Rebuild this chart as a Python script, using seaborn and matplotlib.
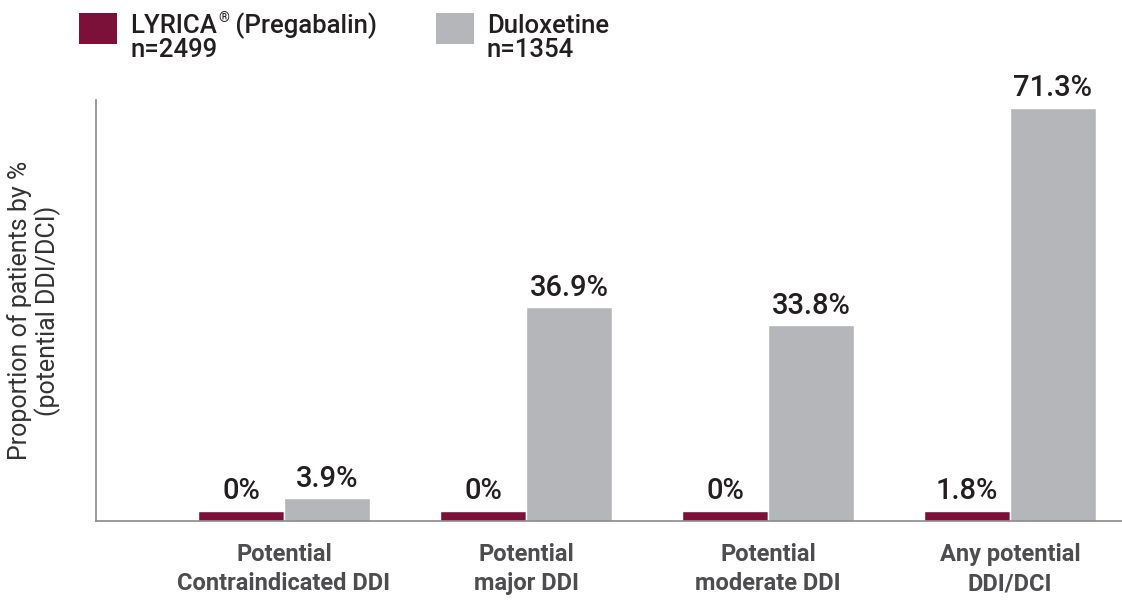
import pandas as pd
import matplotlib.pyplot as plt
import seaborn as sns
from matplotlib.patches import Rectangle

# chart values
categories = ["Potential\nContraindicated DDI", "Potential\nmajor DDI",
              "Potential\nmoderate DDI", "Any potential\nDDI/DCI"]
drugs = ["LYRICA", "Duloxetine"]
drug_n = ["n=2499", "n=1354"]
lyrica = [0, 0, 0, 1.8]
duloxetine = [3.9, 36.9, 33.8, 71.3]

colors = ["#7B1038", "#B5B6BA"]
stub = 1.8  # zero bars are still drawn as a thin stub

df = pd.DataFrame({
    "category": categories * 2,
    "drug": [drugs[0]] * 4 + [drugs[1]] * 4,
    "value": lyrica + duloxetine,
})
df["shown"] = df["value"].clip(lower=stub)

sns.set_style("white")
plt.rcParams["font.family"] = ["Roboto", "DejaVu Sans"]

fig = plt.figure(figsize=(11.22, 6.02), dpi=100)
ax = fig.add_axes([0.0856, 0.1346, 0.9144, 0.6994])

sns.barplot(data=df, x="category", y="shown", hue="drug", hue_order=drugs,
            palette=colors, width=0.71, saturation=1, legend=False, ax=ax)

for cont, drug in zip(ax.containers, drugs):
    vals = df[df["drug"] == drug]["value"].tolist()
    ax.bar_label(cont, labels=[f"{v:g}%" for v in vals], padding=4,
                 fontsize=21, fontweight="medium", color="#231f20")

ax.set_xlim(-0.777, 3.463)
ax.set_ylim(0, 72.7)
ax.set_yticks([])
ax.set_xlabel("")
ax.set_ylabel("Proportion of patients by %\n(potential DDI/DCI)",
              fontsize=18, color="#333333", labelpad=25, linespacing=1.1)
ax.tick_params(axis="x", length=0, pad=16, labelsize=17, labelcolor="#4d4d4f")
for t in ax.get_xticklabels():
    t.set_linespacing(1.35)
    t.set_fontweight("bold")

for s in ["top", "right"]:
    ax.spines[s].set_visible(False)
for s in ["left", "bottom"]:
    ax.spines[s].set_color("#8a8a8a")
    ax.spines[s].set_linewidth(1.2)

# legend drawn by hand: square + two text lines, small superscript ®
W, H = 1122, 602
fig.canvas.draw()
rend = fig.canvas.get_renderer()
legend_x = [79, 436]
for i, (drug, n) in enumerate(zip(drugs, drug_n)):
    x0 = legend_x[i]
    fig.add_artist(Rectangle((x0 / W, 1 - 44 / H), 38 / W, 31 / H,
                             transform=fig.transFigure, color=colors[i], lw=0))
    tx = (x0 + 51) / W
    t = fig.text(tx, 1 - 33 / H, drug, fontsize=18.5, color="#231f20",
                 fontweight="medium")
    if i == 0:
        bb = t.get_window_extent(rend)
        r = fig.text(bb.x1 / W + 0.001, 1 - 22 / H, "\u00ae", fontsize=10,
                     color="#231f20", fontweight="bold")
        bb2 = r.get_window_extent(rend)
        fig.text(bb2.x1 / W, 1 - 33 / H, " (Pregabalin)", fontsize=18.5,
                 color="#231f20", fontweight="medium")
    fig.text(tx, 1 - 57 / H, n, fontsize=18.5, color="#231f20",
             fontweight="medium")

fig.savefig("out.png", dpi=100)
